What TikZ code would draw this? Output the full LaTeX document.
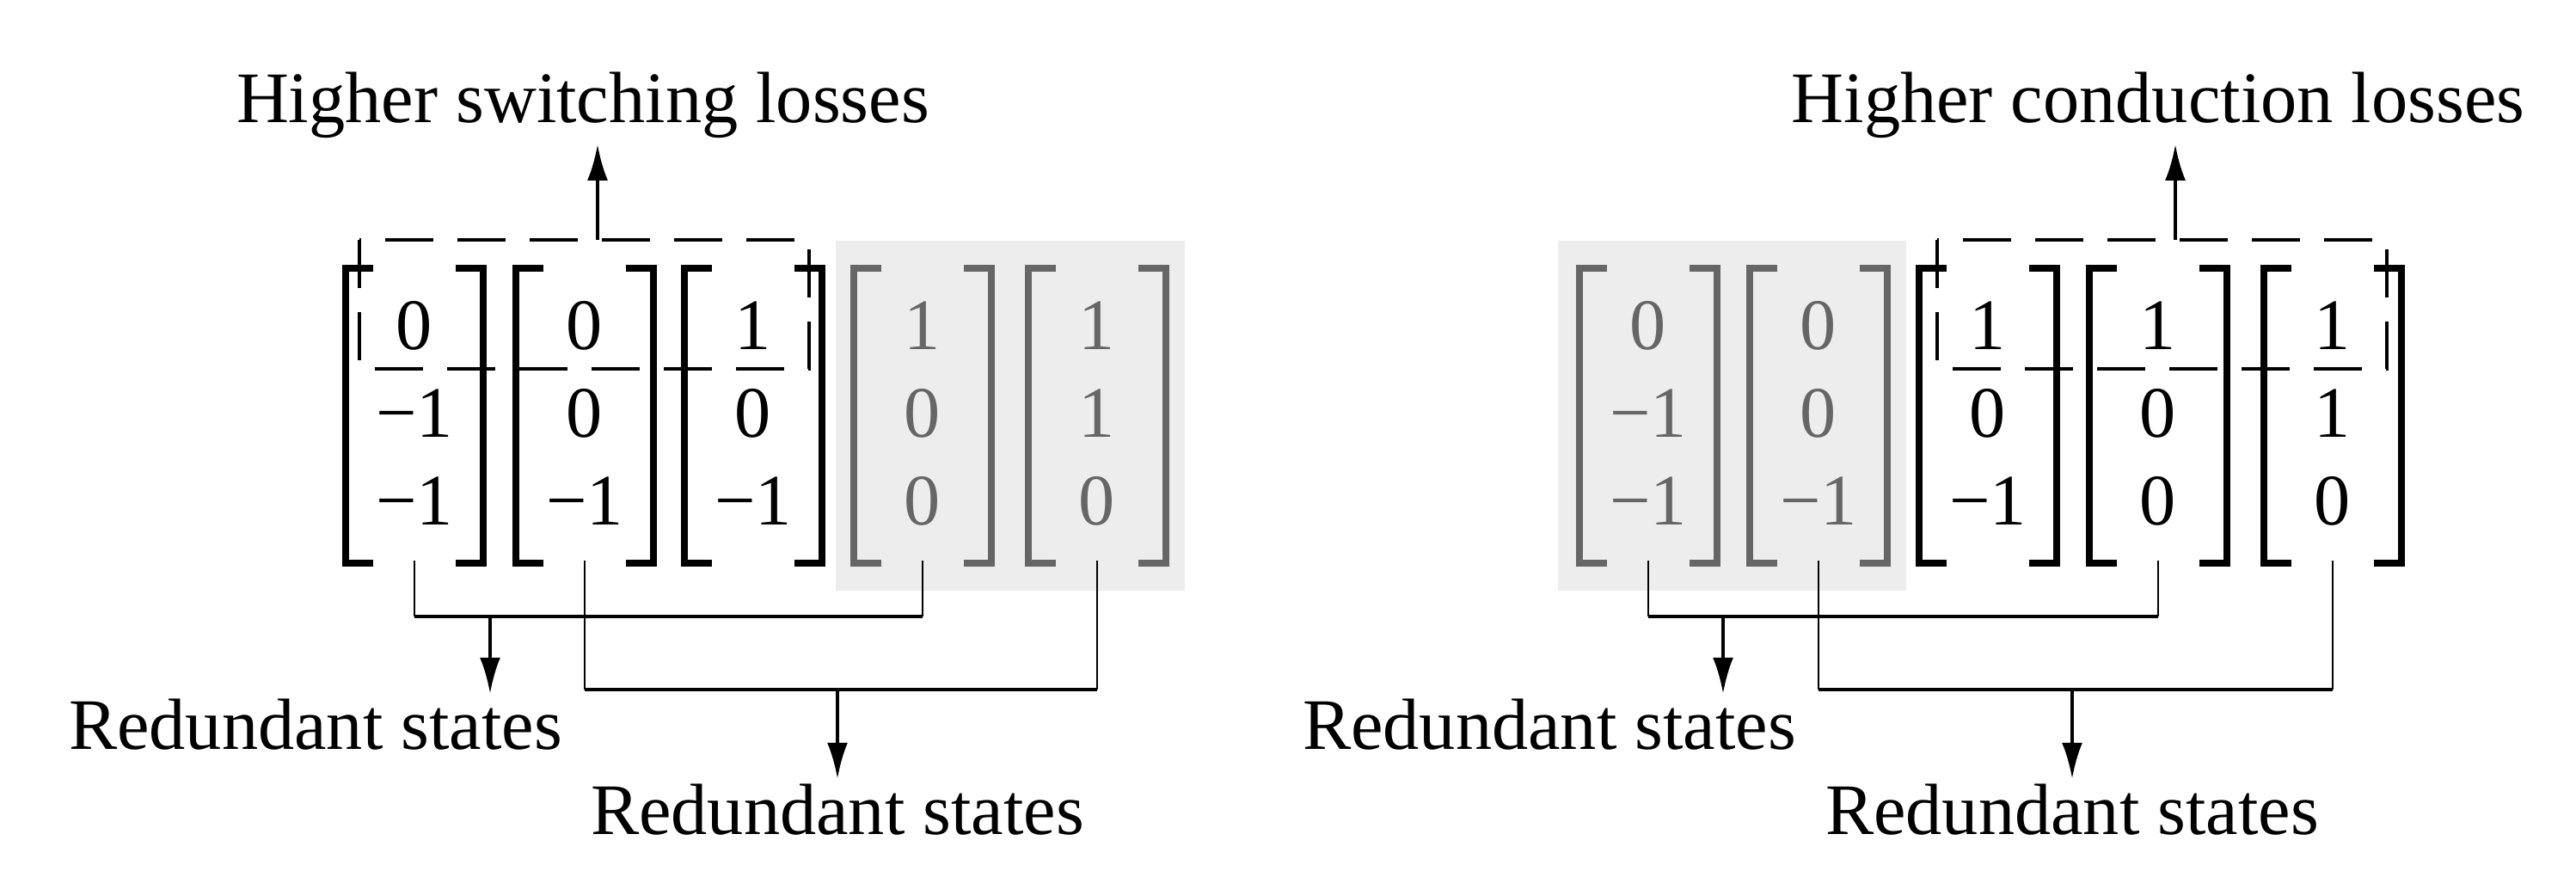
\documentclass[tikz,border=0pt]{standalone}
\usepackage{fontspec}
\setmainfont{Liberation Serif}
\usetikzlibrary{positioning}
\usetikzlibrary{calc}
\usetikzlibrary{arrows.meta}

\definecolor{boxgray}{HTML}{EDEDED}
\definecolor{dim}{HTML}{666666}

\tikzset{
  lbl/.style={font=\fontsize{24}{28}\selectfont, inner sep=0pt, anchor=base},
  entry/.style={font=\fontsize{24}{28}\selectfont, inner sep=0pt},
  bracket/.style={line width=0.08cm},
  box/.style={line width=0.04cm, dash pattern=on 0.56cm off 0.28cm},
  stem/.style={line width=0.025cm},
  bus/.style={line width=0.045cm},
  arr/.style={line width=0.04cm, -{Latex[length=0.42cm,width=0.24cm]}, shorten >=0.06cm}
}

\begin{document}
\begin{tikzpicture}
\useasboundingbox (0,0) rectangle (29.96,-10.2);

\fill[boxgray] (9.72,-2.80) rectangle (13.78,-6.87);
\fill[boxgray] (18.12,-2.80) rectangle (22.17,-6.87);

\foreach \name/\x/\a/\b/\c/\col in {
  L1/4.82/0/−1/−1/black, L2/6.80/0/0/−1/black, L3/8.76/1/0/−1/black,
  L4/10.73/1/0/0/dim, L5/12.76/1/1/0/dim,
  R1/19.17/0/−1/−1/dim, R2/21.15/0/0/−1/dim,
  R3/23.12/1/0/−1/black, R4/25.10/1/0/0/black, R5/27.13/1/1/0/black}{
  \node[entry,text=\col] (\name a) at (\x,-3.79) {\a};
  \node[entry,text=\col] (\name b) at (\x,-4.81) {\b};
  \node[entry,text=\col] (\name c) at (\x,-5.83) {\c};
  \draw[bracket,\col] (\x-0.48,-3.12) -- (\x-0.8,-3.12) -- (\x-0.8,-6.55) -- (\x-0.48,-6.55);
  \draw[bracket,\col] (\x+0.48,-3.12) -- (\x+0.8,-3.12) -- (\x+0.8,-6.55) -- (\x+0.48,-6.55);
  \coordinate (\name s) at (\x,-6.52);
}

% left group
\draw[box] (4.18,-2.79) rectangle (9.41,-4.29);
\coordinate (Ltop) at (6.95,-2.79);
\node[lbl] (Lhigh) at (6.78,-1.43) {Higher switching losses};
\draw[arr] (Ltop) -- (Ltop |- Lhigh.south);

\draw[stem] (L1s) -- (L1s |- 0,-7.17);
\draw[stem] (L4s) -- (L4s |- 0,-7.17);
\draw[stem] (L2s) -- (L2s |- 0,-8.02);
\draw[stem] (L5s) -- (L5s |- 0,-8.02);
\draw[bus] (L1s |- 0,-7.17) -- (L4s |- 0,-7.17);
\draw[bus] (L2s |- 0,-8.02) -- (L5s |- 0,-8.02);
\coordinate (Lbus1) at (5.70,-7.17);
\coordinate (Lbus2) at (9.74,-8.02);
\node[lbl] (Lred1) at (3.67,-8.72) {Redundant states};
\node[lbl] (Lred2) at (9.74,-9.71) {Redundant states};
\draw[arr] (Lbus1) -- (Lbus1 |- Lred1.north);
\draw[arr] (Lbus2) -- (Lbus2 |- Lred2.north);

% right group
\draw[box] (22.53,-2.79) rectangle (27.76,-4.29);
\coordinate (Rtop) at (25.30,-2.79);
\node[lbl] (Rhigh) at (25.10,-1.43) {Higher conduction losses};
\draw[arr] (Rtop) -- (Rtop |- Rhigh.south);

\draw[stem] (R1s) -- (R1s |- 0,-7.17);
\draw[stem] (R4s) -- (R4s |- 0,-7.17);
\draw[stem] (R2s) -- (R2s |- 0,-8.02);
\draw[stem] (R5s) -- (R5s |- 0,-8.02);
\draw[bus] (R1s |- 0,-7.17) -- (R4s |- 0,-7.17);
\draw[bus] (R2s |- 0,-8.02) -- (R5s |- 0,-8.02);
\coordinate (Rbus1) at (20.04,-7.17);
\coordinate (Rbus2) at (24.10,-8.02);
\node[lbl] (Rred1) at (18.02,-8.72) {Redundant states};
\node[lbl] (Rred2) at (24.10,-9.71) {Redundant states};
\draw[arr] (Rbus1) -- (Rbus1 |- Rred1.north);
\draw[arr] (Rbus2) -- (Rbus2 |- Rred2.north);
\end{tikzpicture}
\end{document}
